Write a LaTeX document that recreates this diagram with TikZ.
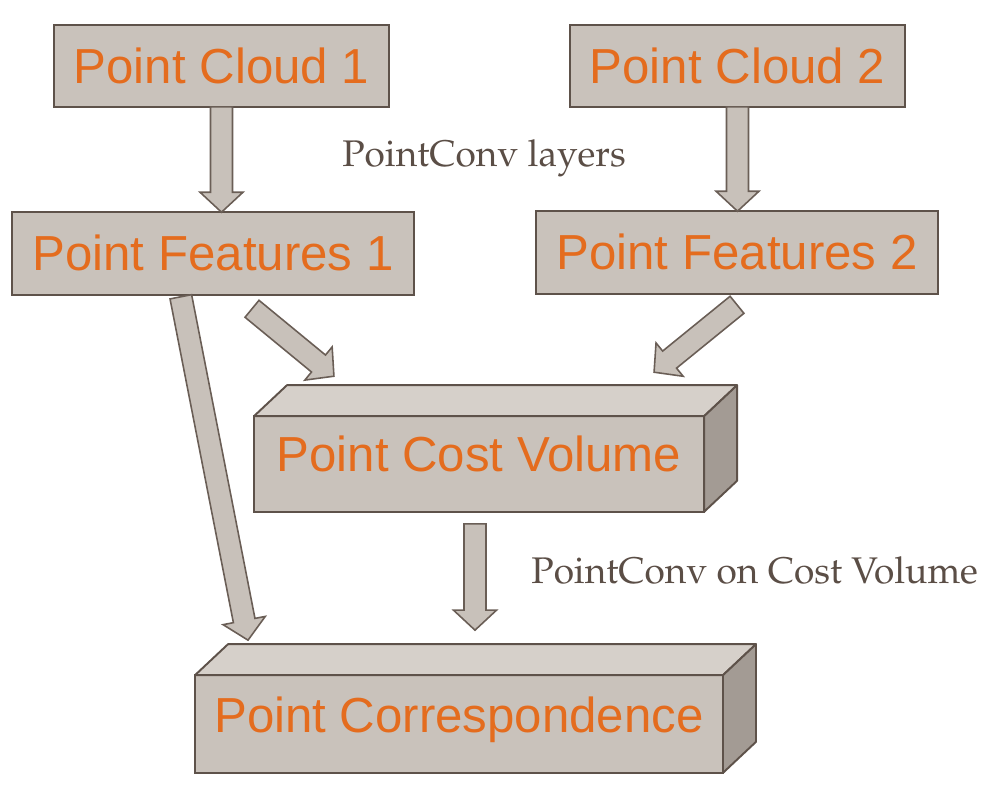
\documentclass[tikz,border=0pt]{standalone}
\usepackage{fontspec}
\setmainfont{Liberation Sans}
\usetikzlibrary{calc}
\definecolor{boxfill}{HTML}{C9C2BB}
\definecolor{boxtop}{HTML}{D6D0CA}
\definecolor{boxside}{HTML}{A39B94}
\definecolor{boxline}{HTML}{5E524A}
\definecolor{arrowfill}{HTML}{C8C1BA}
\definecolor{arrowline}{HTML}{6A5E56}
\definecolor{txtorange}{HTML}{E46C1E}
\definecolor{lblgrey}{HTML}{5B4E46}
\newcommand{\lblfont}{\fontencoding{T1}\fontfamily{ppl}\selectfont}

\begin{document}
\begin{tikzpicture}[x=0.02cm, y=-0.02cm,
  box/.style={draw=boxline, line width=1.1pt, fill=boxfill, text=txtorange,
    font=\fontsize{28}{30}\selectfont, inner sep=0pt, outer sep=0pt,
    text height=19.8pt, text depth=0pt},
  cloudbox/.style={box, minimum width=191pt, minimum height=46.5pt},
  featbox/.style={box, minimum width=229pt, minimum height=47pt},
  solidbox/.style={box, text depth=10.7pt},
  topface/.style={draw=boxline, line width=1.1pt, fill=boxtop, line join=round},
  sideface/.style={draw=boxline, line width=1.1pt, fill=boxside, line join=round},
  blockarrow/.style={draw=arrowline, fill=arrowfill, line width=0.9pt, line join=miter},
  lbl/.style={text=lblgrey, font=\lblfont\fontsize{21.1}{24}\selectfont, inner sep=0pt}]
\useasboundingbox (0,0) rectangle (993,787);

% inputs and features
\node[cloudbox] (pc1) at (221.5,66) {Point Cloud 1};
\node[cloudbox] (pc2) at (737.5,66) {Point Cloud 2};
\node[featbox] (pf1) at (213,253.5) {Point Features 1};
\node[featbox] (pf2) at (737,252.5) {Point Features 2};

% cost volume and correspondence (front faces)
\node[solidbox, minimum width=256.2pt, minimum height=54.4pt] (cv) at (479,464) {Point Cost Volume\hspace{6pt}};
\node[solidbox, minimum width=300.5pt, minimum height=55.6pt] (co) at (459,724) {Point Correspondence};
\foreach \b in {cv, co} {
 \draw[topface] (\b.north west) --++(33,-31) -- ($(\b.north east)+(33,-31)$) -- (\b.north east) -- cycle;
 \draw[sideface] (\b.north east) --++(33,-31) -- ($(\b.south east)+(33,-31)$) -- (\b.south east) -- cycle;
}

% arrow ends
\coordinate (f1-in) at (pc1.south |- pf1.north);
\coordinate (f2-in) at (pc2.south |- pf2.north);
\coordinate (f1-out) at ($(pf1.south)+(39,14)$);
\coordinate (cv-in1) at ($(cv.north west)+(80,-40)$);
\coordinate (f2-out) at ($(pf2.south)+(0,11)$);
\coordinate (cv-in2) at ($(cv.north east)+(-50,-44)$);
\coordinate (cv-out) at ($(cv.south)+(-4,12)$);
\coordinate (co-in1) at ($(co.north)+(16,-45)$);
\coordinate (f1-skip) at ($(pf1.south west)+(169,2)$);
\coordinate (co-in2) at ($(co.north west)+(53,-35)$);

\foreach \a/\b in {pc1.south/f1-in, pc2.south/f2-in, f1-out/cv-in1, f2-out/cv-in2, cv-out/co-in1, f1-skip/co-in2} {
 \coordinate (hb) at ($(\b)!0.4cm!(\a)$);
 \draw[blockarrow] ($(\a)!0.22cm!90:(\b)$) -- ($(hb)!0.22cm!90:(\b)$) -- ($(hb)!0.43cm!90:(\b)$) -- (\b)
   -- ($(hb)!0.43cm!-90:(\b)$) -- ($(hb)!0.22cm!-90:(\b)$) -- ($(\a)!0.22cm!-90:(\b)$) -- cycle;
}

\node[lbl, anchor=base west] (lbl-layers) at (342,167) {PointConv layers};
\node[lbl, anchor=base west] (lbl-cost) at (531,583) {PointConv on Cost Volume};
\end{tikzpicture}
\end{document}
